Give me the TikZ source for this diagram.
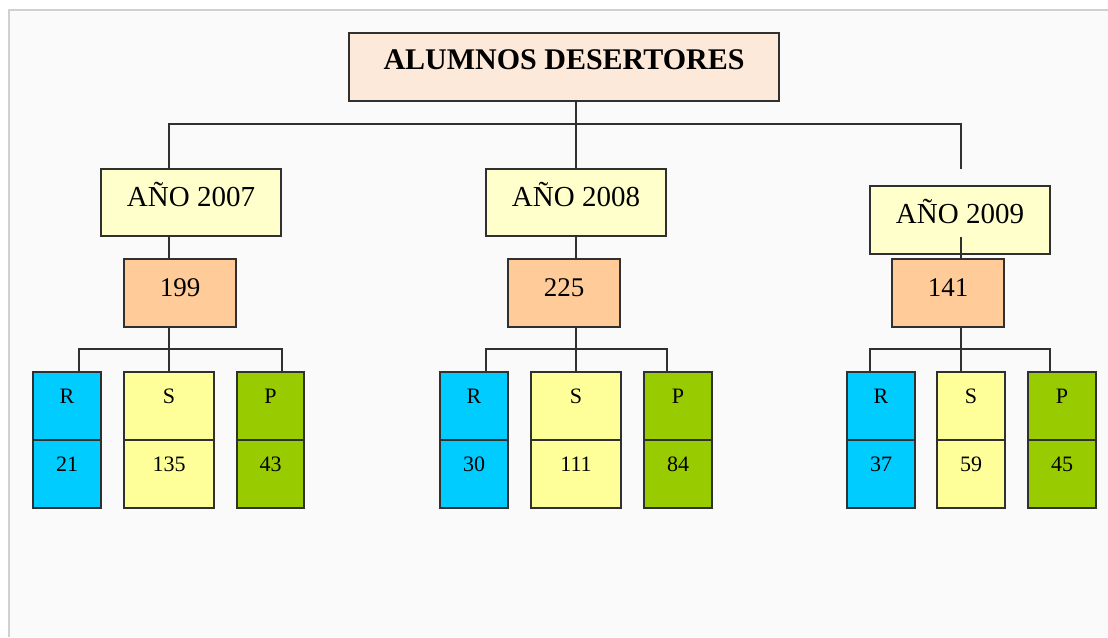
\documentclass[tikz,border=0pt]{standalone}
\usepackage{fontspec}
\setmainfont{Liberation Serif}

\definecolor{panel}{HTML}{FAFAFA}
\definecolor{frameline}{HTML}{D0D0D0}
\definecolor{titlefill}{HTML}{FDE9D9}
\definecolor{yearfill}{HTML}{FFFFCC}
\definecolor{totalfill}{HTML}{FFCC99}
\definecolor{rfill}{HTML}{00CCFF}
\definecolor{sfill}{HTML}{FFFF99}
\definecolor{pfill}{HTML}{99CC00}
\definecolor{edge}{HTML}{303030}

\tikzset{
  box/.style={draw=edge, line width=2pt, inner sep=0pt},
  titlebox/.style={box, fill=titlefill, minimum width=430pt, minimum height=68pt,
    font=\fontsize{30}{32}\selectfont\bfseries, text height=22pt, text depth=18pt},
  yearbox/.style={box, fill=yearfill, minimum width=180pt, minimum height=67pt,
    font=\fontsize{29}{31}\selectfont, text height=22pt, text depth=15pt},
  totalbox/.style={box, fill=totalfill, minimum width=112pt, minimum height=68pt,
    font=\fontsize{27}{29}\selectfont, text height=20pt, text depth=14pt},
  leafbox/.style={box, minimum height=68pt,
    font=\fontsize{22}{24}\selectfont, text height=16pt, text depth=21pt},
  link/.style={draw=edge, line width=2pt}
}

\begin{document}
\begin{tikzpicture}[x=1pt,y=-1pt]
    \useasboundingbox (0,0) rectangle (1108,637);
    \fill[white] (0,0) rectangle (1108,637);
    \fill[panel] (9,10) rectangle (1108,637);
    \draw[frameline, line width=2pt] (9,637) -- (9,10) -- (1108,10);

    \node[titlebox] (title) at (564,67) {ALUMNOS DESERTORES};

    \node[yearbox] (y1) at (191,202.5) {AÑO 2007};
    \node[yearbox] (y2) at (576,202.5) {AÑO 2008};
    \node[yearbox, minimum height=68pt] (y3) at (960,220) {AÑO 2009};

    \node[totalbox] (t1) at (180,293) {199};
    \node[totalbox] (t2) at (564,293) {225};
    \node[totalbox] (t3) at (948,293) {141};

    % R / S / P columns, name on top and count below
    \foreach \n/\x/\w/\c/\l/\v in {r1/67/68/rfill/R/21, s1/169/90/sfill/S/135, p1/270.5/67/pfill/P/43,
                                  r2/474/68/rfill/R/30, s2/576/90/sfill/S/111, p2/678/68/pfill/P/84,
                                  r3/881/68/rfill/R/37, s3/971/68/sfill/S/59, p3/1062/68/pfill/P/45}
    {
      \node[leafbox, fill=\c, minimum width=\w*1pt] (\n) at (\x,406) {\l};
      \node[leafbox, fill=\c, minimum width=\w*1pt] (val-\n) at (\x,474) {\v};
    }

    \coordinate (b1) at (169,124);
    \coordinate (b3) at (961,124);
    \coordinate (end3) at (961,169);
    \coordinate (mid3) at (961,237);
    \coordinate (l1) at (79,349);
    \coordinate (rt1) at (282,349);
    \coordinate (l2) at (486,349);
    \coordinate (rt2) at (667,349);
    \coordinate (l3) at (870,349);
    \coordinate (rt3) at (1050,349);

    \draw[link] (title.south -| y2.north) -- (y2.north);
    \draw[link] (y1.north -| b1) -- (b1) -- (b3) -- (end3);

    \draw[link] (y1.south -| b1) -- (t1.north -| b1);
    \draw[link] (y2.south) -- (t2.north -| y2.south);
    \draw[link] (mid3) -- (t3.north -| mid3);

    \draw[link] (t1.south -| b1) -- (s1.north -| b1);
    \draw[link] (r1.north -| l1) -- (l1) -- (rt1) -- (p1.north -| rt1);
    \draw[link] (t2.south -| s2) -- (s2.north);
    \draw[link] (r2.north -| l2) -- (l2) -- (rt2) -- (p2.north -| rt2);
    \draw[link] (t3.south -| b3) -- (s3.north -| b3);
    \draw[link] (r3.north -| l3) -- (l3) -- (rt3) -- (p3.north -| rt3);
\end{tikzpicture}
\end{document}
